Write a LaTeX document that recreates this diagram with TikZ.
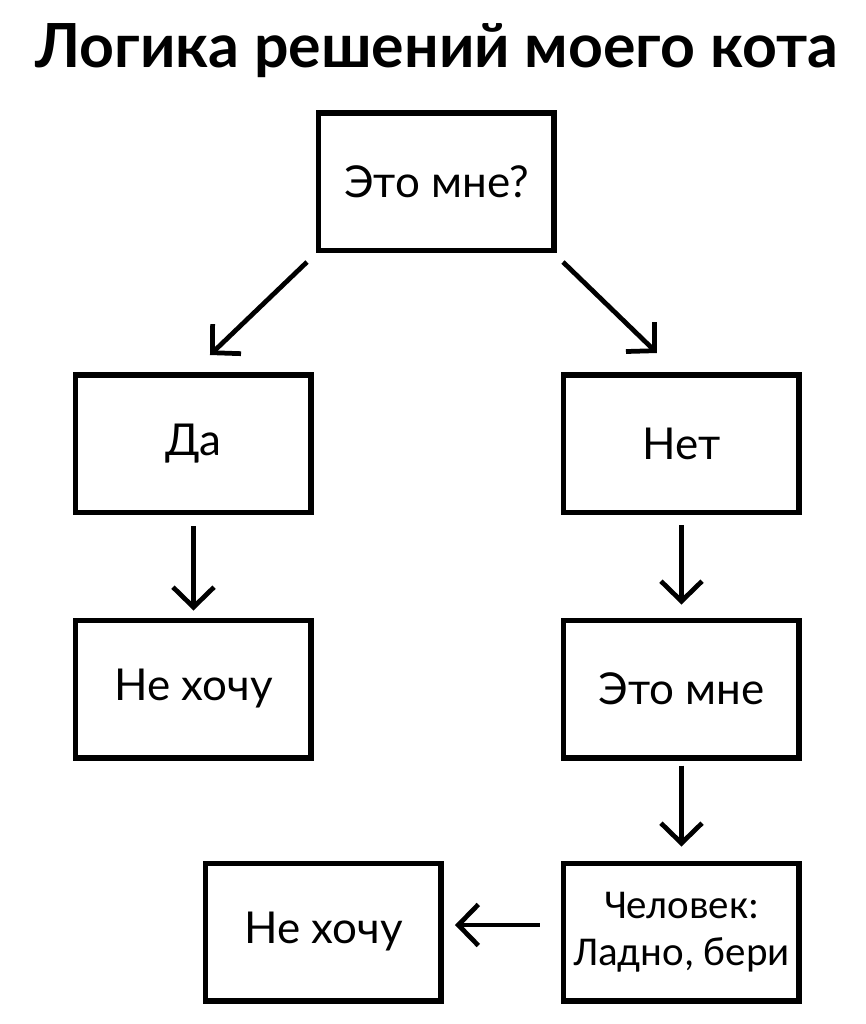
\documentclass[tikz,border=0pt]{standalone}
\usepackage{fontspec}
\setmainfont{Lato}
\newfontfamily\calibri{Carlito}
\usetikzlibrary{arrows.meta, positioning}

\begin{document}
\begin{tikzpicture}[
  blok/.style={rectangle, draw=black, line width=0.11cm, fill=white,
               minimum width=4.71cm, minimum height=2.75cm, inner sep=0pt,
               font=\fontsize{25}{30}\selectfont},
  chelbox/.style={blok, align=center, font=\calibri\fontsize{23.3}{26.5}\selectfont},
  titul/.style={font=\bfseries\fontsize{34.6}{40}\selectfont, anchor=base},
  arrow/.style={-{Straight Barb[length=0.4cm, width=0.82cm]}, line width=0.095cm}
]
\useasboundingbox (-8.73,3.63) rectangle (8.59,-16.85);

% Заголовок
\node[titul] (title) at (0.0,2.29) {Логика решений моего кота};

% Вопрос сверху
\node[blok] (q) at (0,0) {Это мне?};

% Левая ветка
\node[blok, below left=2.38cm and 0.04cm of q] (da) {Да};
\node[blok, below=2.05cm of da] (ne1) {Не хочу};

% Правая ветка
\node[blok, right=4.94cm of da] (net) {Нет};
\node[blok, below=2.05cm of net] (eto) {Это мне};
\node[chelbox, below=2.0cm of eto] (chel) {Человек:\\Ладно, бери};
\node[blok, left=2.34cm of chel] (ne2) {Не хочу};

% Стрелки от вопроса
\draw[arrow] ([shift={(-0.18,-0.18)}]q.south west) -- ([shift={(0.33,0.34)}]da.north);
\draw[arrow] ([shift={(0.12,-0.18)}]q.south east) -- ([shift={(-0.49,0.38)}]net.north);

% Вниз по веткам
\draw[arrow, shorten <=0.22cm, shorten >=0.14cm] (da) -- (ne1);
\draw[arrow, shorten <=0.2cm, shorten >=0.26cm] (net) -- (eto);
\draw[arrow, shorten <=0.1cm, shorten >=0.28cm] (eto) -- (chel);

% Налево
\draw[arrow, shorten <=0.42cm, shorten >=0.22cm] ([yshift=0.14cm]chel.west) -- ([yshift=0.14cm]ne2.east);

\end{tikzpicture}
\end{document}
